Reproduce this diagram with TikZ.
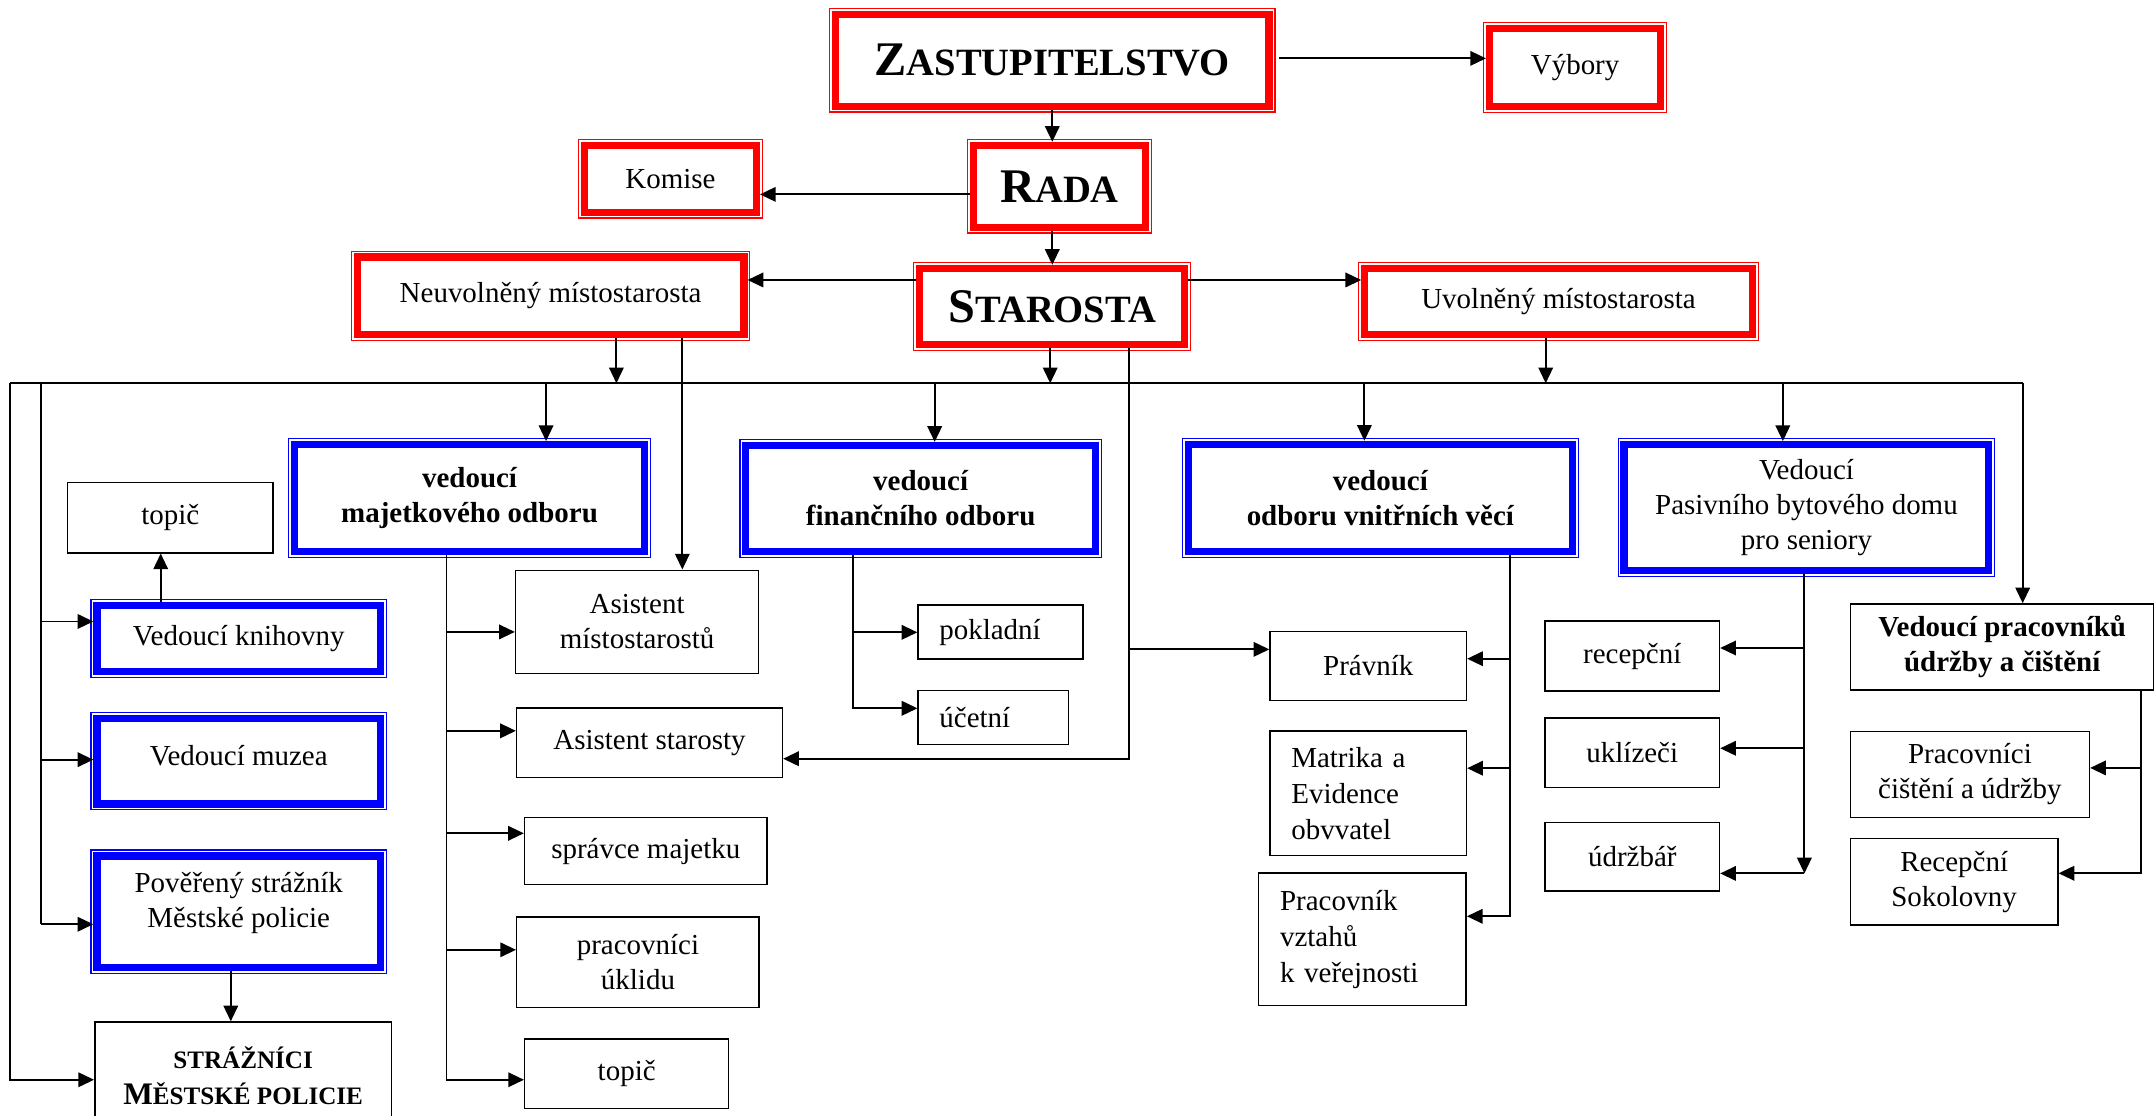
\documentclass[tikz,border=0pt,12pt]{standalone}
\usepackage{fontspec}
\setmainfont{Liberation Serif}
\usetikzlibrary{arrows.meta}
\newcommand{\hcaps}[2]{{\fontsize{20}{24}\selectfont #1}{\fontsize{16}{24}\selectfont #2}}
\begin{document}
\begin{tikzpicture}[x=0.2mm,y=-0.2mm,
  rbox/.style={draw=red,line width=3pt,outer sep=1.5pt,inner sep=1pt,align=center},
  bbl/.style={draw=blue,line width=3pt,outer sep=1.5pt,inner sep=1pt,align=center},
  bbox/.style={draw,line width=0.6pt,inner sep=1pt,align=center},
  lbox/.style={bbox,align=left,inner xsep=3.1mm},
  ln/.style={line width=0.8pt},
  arr/.style={line width=0.8pt,-{Triangle[length=6.5pt,width=6pt]}}]
  \useasboundingbox (0,0) rectangle (1568,812);

  \node[rbox,font=\bfseries,minimum width=63.1mm,minimum height=13.3mm] (zast) at (766,44) {\hcaps{Z}{ASTUPITELSTVO}};
  \node[rbox,minimum width=24.9mm,minimum height=11.3mm] (vybory) at (1146.6,49.2) {Výbory};
  \node[rbox,minimum width=25mm,minimum height=9.7mm] (komise) at (488.1,130.2) {Komise};
  \node[rbox,font=\bfseries,minimum width=25.1mm,minimum height=11.9mm] (rada) at (771.3,135.6) {\hcaps{R}{ADA}};
  \node[rbox,minimum width=56.3mm,minimum height=11.3mm] (neuv) at (400.8,215.4) {Neuvolněný místostarosta};
  \node[rbox,font=\bfseries,minimum width=38.6mm,minimum height=11.1mm] (starosta) at (766,223.2) {\hcaps{S}{TAROSTA}};
  \node[rbox,minimum width=56.4mm,minimum height=9.6mm] (uvol) at (1134.5,219.6) {Uvolněný místostarosta};

  \node[bbl,font=\bfseries,minimum width=50.9mm,minimum height=15.5mm] (majet) at (341.8,362.5) {vedoucí\\majetkového odboru};
  \node[bbl,font=\bfseries,minimum width=50.9mm,minimum height=15.4mm] (financ) at (670.2,362.8) {vedoucí\\finančního odboru};
  \node[bbl,font=\bfseries,minimum width=55.9mm,minimum height=15.6mm] (vnitr) at (1004.8,362.5) {vedoucí\\odboru vnitřních věcí};
  \node[bbl,minimum width=53.1mm,minimum height=18.3mm] (pasiv) at (1315,369.5) {Vedoucí\\Pasivního bytového domu\\pro seniory};
  \node[bbl,minimum width=41.3mm,minimum height=9.6mm] (knihov) at (173.8,464.9) {Vedoucí knihovny};
  \node[bbl,text depth=5pt,minimum width=41.3mm,minimum height=12.4mm] (muzea) at (173.8,554.2) {Vedoucí muzea};
  \node[bbl,text depth=10pt,minimum width=41.3mm,minimum height=16.3mm] (povstr) at (173.8,663.8) {Pověřený strážník\\Městské policie};

  \node[bbox,minimum width=29.9mm,minimum height=10.2mm] (topic1) at (124,376.9) {topič};
  \node[bbox,font=\bfseries\fontsize{13}{15}\selectfont,minimum width=43.2mm,minimum height=15.6mm] (straz) at (177,783)
    {{\fontsize{10.4}{15}\selectfont STRÁŽNÍCI}\\M{\fontsize{10.4}{15}\selectfont ĚSTSKÉ POLICIE}};
  \node[bbox,minimum width=35.4mm,minimum height=15mm] (asmist) at (463.8,452.6) {Asistent\\místostarostů};
  \node[bbox,minimum width=38.7mm,minimum height=10.1mm] (asstar) at (472.8,540.7) {Asistent starosty};
  \node[bbox,minimum width=35.3mm,minimum height=9.8mm] (spravce) at (470.1,619.5) {správce majetku};
  \node[bbox,minimum width=35.3mm,minimum height=13.2mm] (uklid) at (464.4,700.5) {pracovníci\\úklidu};
  \node[bbox,minimum width=29.7mm,minimum height=10.1mm] (topic2) at (456.2,781.7) {topič};
  \node[lbox,text width=17.8mm,minimum height=7.9mm] (poklad) at (728.3,460.1) {pokladní};
  \node[lbox,text width=15.7mm,minimum height=7.8mm] (ucetni) at (723.1,522.3) {účetní};
  \node[bbox,minimum width=28.6mm,minimum height=10mm] (pravnik) at (996,484.8) {Právník};
  \node[lbox,font=\fontsize{12}{15}\selectfont,text width=22.4mm,minimum height=18.1mm] (matrika) at (996,577.5) {Matrika a\\Evidence\\obvvatel};
  \node[lbox,font=\fontsize{12}{15}\selectfont,text width=24mm,minimum height=19.3mm] (vztahy) at (991.8,683.7) {Pracovník\\vztahů\\k veřejnosti};
  \node[bbox,minimum width=25.4mm,minimum height=10.2mm] (recep) at (1188.2,477.6) {recepční};
  \node[bbox,minimum width=25.4mm,minimum height=10.1mm] (uklizeci) at (1188.2,547.8) {uklízeči};
  \node[bbox,minimum width=25.4mm,minimum height=10mm] (udrzbar) at (1188.2,623.6) {údržbář};
  \node[bbox,font=\bfseries,minimum width=44.2mm,minimum height=12.5mm] (vedprac) at (1457.5,470.9) {Vedoucí pracovníků\\údržby a čištění};
  \node[bbox,minimum width=34.8mm,minimum height=12.5mm] (pracci) at (1434,563.8) {Pracovníci\\čištění a údržby};
  \node[bbox,minimum width=30.2mm,minimum height=12.6mm] (recsok) at (1422.5,642) {Recepční\\Sokolovny};

  \foreach \n in {zast,vybory,komise,rada,neuv,starosta,uvol}
    \draw[red,line width=0.5pt] ([shift={(-0.95pt,-0.95pt)}]\n.south west) rectangle ([shift={(0.95pt,0.95pt)}]\n.north east);
  \foreach \n in {majet,financ,vnitr,pasiv,knihov,muzea,povstr}
    \draw[blue,line width=0.5pt] ([shift={(-0.95pt,-0.95pt)}]\n.south west) rectangle ([shift={(0.95pt,0.95pt)}]\n.north east);

  \coordinate (busL) at (7.4,279);
  \coordinate (busL2) at (29.7,279);
  \coordinate (busR) at (1472.4,279);

  \draw[arr] ([xshift=1mm]zast.east |- 0,42.5) -- (vybory.west |- 0,42.5);
  \draw[arr] (zast.south) -- (zast.south |- rada.north);
  \draw[arr] (rada.west |- 0,141.5) -- (komise.east |- 0,141.5);
  \draw[arr] (starosta.north |- rada.south) -- (starosta.north);
  \draw[arr] (starosta.west |- 0,203.8) -- (neuv.east |- 0,203.8);
  \draw[arr] (starosta.east |- 0,203.8) -- (uvol.west |- 0,203.8);

  \draw[ln] (busL) -- (busR);
  \draw[arr] (busR) -- (busR |- vedprac.north);
  \draw[arr] (busL) |- (straz.west |- 0,786);
  \draw[ln] (busL2) -- (busL2 |- 0,672.8);
  \foreach \n/\x in {neuv/448.7,starosta/764.5,uvol/1125.2}
    \draw[arr] (\n.south -| \x,0) -- (\x,279);
  \foreach \n/\x in {majet/397.5,financ/680.4,vnitr/993.2,pasiv/1297.8}
    \draw[arr] (\x,279) -- (\n.north -| \x,0);
  \foreach \n/\y in {knihov/452.4,muzea/553,povstr/672.8}
    \draw[arr] (29.7,\y) -- (\n.west |- 0,\y);

  \draw[arr] (knihov.north -| 117,0) -- (topic1.south -| 117,0);
  \draw[arr] (povstr.south -| 168,0) -- (straz.north -| 168,0);
  \draw[arr] (neuv.south -| 496.7,0) -- (asmist.north -| 496.7,0);

  \draw[arr] (majet.south -| 325,0) |- (topic2.west |- 0,786);
  \foreach \n/\y in {asmist/460,asstar/532,spravce/606.6,uklid/691.4}
    \draw[arr] (325,\y) -- (\n.west |- 0,\y);

  \draw[arr] (financ.south -| 621,0) |- (ucetni.west |- 0,515.6);
  \draw[arr] (621,460.3) -- (poklad.west |- 0,460.3);

  \draw[arr] (starosta.south -| 822,0) |- (asstar.east |- 0,552.3);
  \draw[arr] (822,472.7) -- (pravnik.west |- 0,472.7);

  \draw[arr] (vnitr.south -| 1099.2,0) |- (vztahy.east |- 0,667);
  \foreach \n/\y in {pravnik/479.5,matrika/559.2}
    \draw[arr] (1099.2,\y) -- (\n.east |- 0,\y);

  \draw[arr] (pasiv.south -| 1313.5,0) -- (1313.5,635.8);
  \foreach \n/\y in {recep/471.7,uklizeci/544.7,udrzbar/635.8}
    \draw[arr] (1313.5,\y) -- (\n.east |- 0,\y);

  \draw[arr] (vedprac.south -| 1558.6,0) |- (recsok.east |- 0,635.7);
  \draw[arr] (1558.6,559) -- (pracci.east |- 0,559);
\end{tikzpicture}
\end{document}
